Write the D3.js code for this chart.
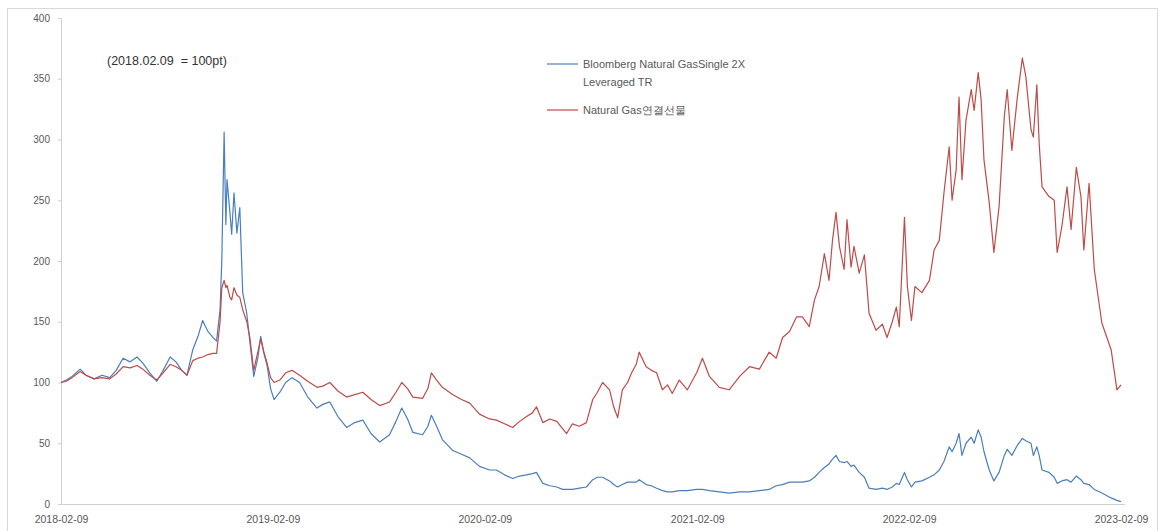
<!DOCTYPE html>
<html><head><meta charset="utf-8">
<script src="https://cdn.jsdelivr.net/npm/d3@7/dist/d3.min.js"></script>
<style>
html,body{margin:0;padding:0;background:#fff;}
svg{display:block;font-family:"Liberation Sans",Arial,sans-serif;}
</style></head>
<body>
<svg id="chart" width="1163" height="531"></svg>
<script>
const dates = ["2018-02-09","2018-02-18","2018-02-28","2018-03-14","2018-03-24","2018-04-07","2018-04-21","2018-05-04","2018-05-15","2018-05-27","2018-06-08","2018-06-20","2018-06-30","2018-07-12","2018-07-24","2018-08-04","2018-08-16","2018-08-26","2018-09-05","2018-09-14","2018-09-24","2018-10-03","2018-10-11","2018-10-20","2018-10-29","2018-11-04","2018-11-10","2018-11-13","2018-11-17","2018-11-20","2018-11-22","2018-11-27","2018-11-30","2018-12-04","2018-12-09","2018-12-14","2018-12-19","2018-12-26","2018-12-31","2019-01-07","2019-01-14","2019-01-19","2019-01-24","2019-01-30","2019-02-05","2019-02-11","2019-02-21","2019-03-03","2019-03-14","2019-03-27","2019-04-10","2019-04-26","2019-05-06","2019-05-18","2019-06-01","2019-06-16","2019-06-30","2019-07-14","2019-07-28","2019-08-12","2019-08-29","2019-09-09","2019-09-19","2019-09-29","2019-10-08","2019-10-25","2019-11-03","2019-11-09","2019-11-18","2019-11-28","2019-12-16","2019-12-31","2020-01-14","2020-01-31","2020-02-17","2020-02-29","2020-03-14","2020-03-28","2020-04-09","2020-04-21","2020-05-01","2020-05-08","2020-05-19","2020-05-31","2020-06-12","2020-06-22","2020-06-29","2020-07-09","2020-07-21","2020-08-02","2020-08-13","2020-08-21","2020-08-30","2020-09-11","2020-09-18","2020-09-25","2020-10-03","2020-10-12","2020-10-19","2020-10-27","2020-11-01","2020-11-13","2020-11-22","2020-12-01","2020-12-11","2020-12-20","2020-12-28","2021-01-09","2021-01-23","2021-02-08","2021-02-18","2021-03-02","2021-03-19","2021-04-05","2021-04-23","2021-05-10","2021-05-27","2021-06-13","2021-06-25","2021-07-06","2021-07-18","2021-07-30","2021-08-09","2021-08-21","2021-08-30","2021-09-07","2021-09-16","2021-09-24","2021-09-30","2021-10-06","2021-10-12","2021-10-20","2021-10-25","2021-11-01","2021-11-06","2021-11-15","2021-11-24","2021-12-02","2021-12-14","2021-12-25","2022-01-02","2022-01-11","2022-01-18","2022-01-23","2022-02-01","2022-02-06","2022-02-13","2022-02-19","2022-03-03","2022-03-16","2022-03-24","2022-04-02","2022-04-10","2022-04-19","2022-04-24","2022-05-01","2022-05-06","2022-05-11","2022-05-18","2022-05-27","2022-06-01","2022-06-08","2022-06-13","2022-06-18","2022-06-27","2022-07-05","2022-07-14","2022-07-23","2022-07-28","2022-08-05","2022-08-14","2022-08-23","2022-08-29","2022-09-07","2022-09-11","2022-09-17","2022-09-21","2022-09-26","2022-10-08","2022-10-17","2022-10-22","2022-10-30","2022-11-08","2022-11-15","2022-11-24","2022-12-02","2022-12-07","2022-12-16","2022-12-25","2023-01-07","2023-01-23","2023-02-02","2023-02-09"];

const bloomberg2x = [100,102,105,111,106,103,106,104,110,120,117,121,116,108,101,110,121,117,110,106,127,138,151,142,137,134,160,200,306,230,267,240,222,256,223,244,174,157,135,105,120,138,125,114,95,86,92,100,104,100,88,79,82,84,72,63,67,69,58,51,57,68,79,70,59,57,64,73,64,53,44,41,38,31,28,28,24,21,23,24,25,26,17,15,14,12,12,12,13,14,20,22,22,19,16,14,16,18,18,18,20,16,15,13,11,10,10,11,11,12,12,11,10,9,10,10,11,12,15,16,18,18,18,19,22,26,30,33,37,40,35,34,35,31,32,26,22,13,12,13,12,14,17,16,26,20,14,18,19,22,24,28,35,47,43,50,58,40,50,55,50,61,55,43,28,19,26,40,45,40,48,54,52,50,40,47,40,28,26,22,17,19,20,18,23,20,17,16,12,9,5,3,2];

const naturalGas = [100,101,104,109,106,103,104,103,107,113,112,114,111,106,102,108,115,113,110,106,118,120,121,123,124,124,150,178,184,178,180,170,168,178,172,170,160,150,138,110,125,136,126,116,104,100,102,108,110,106,101,96,97,100,93,88,90,92,86,81,84,92,100,95,88,87,95,108,102,96,90,86,83,74,70,69,66,63,68,72,75,80,67,70,68,62,58,66,64,67,86,92,100,94,80,71,94,100,108,115,125,113,110,108,94,98,91,102,94,108,120,105,96,94,105,113,111,125,120,137,142,154,154,146,168,179,206,184,217,240,212,193,234,195,212,190,205,157,143,148,137,150,162,146,236,179,151,179,174,184,209,217,256,294,250,275,335,267,316,341,324,355,333,283,248,207,245,319,341,291,333,367,352,308,302,345,297,261,253,250,207,228,261,226,277,253,209,264,193,149,127,94,98];

const seriesNames = ["Bloomberg Natural GasSingle 2X", "Leveraged TR", "Natural Gas연결선물"];
const yTicks = [0,50,100,150,200,250,300,350,400];
const xTickLabels = ["2018-02-09","2019-02-09","2020-02-09","2021-02-09","2022-02-09","2023-02-09"];
const note = "(2018.02.09  = 100pt)";

const parse = d3.timeParse("%Y-%m-%d");
const svg = d3.select("#chart");
const blue = "#4A7EBB", red = "#BE4B48";

svg.append("rect").attr("x",7.5).attr("y",8.5).attr("width",1150).attr("height",540)
  .attr("fill","none").attr("stroke","#d9d9d9");

const x = d3.scaleTime().domain([parse("2018-02-09"), parse("2023-02-09")]).range([61, 1121]);
const y = d3.scaleLinear().domain([0,400]).range([504, 18]);

// y axis
const yAxis = svg.append("g").attr("transform","translate(61,0)")
  .call(d3.axisLeft(y).tickValues(yTicks).tickSize(3).tickPadding(8));
yAxis.select(".domain").attr("stroke","#d0d0d0");
yAxis.selectAll(".tick line").attr("stroke","#d0d0d0");
yAxis.selectAll("text").attr("fill","#595959").style("font-size","10px");

// x axis
const xAxis = svg.append("g").attr("transform","translate(0,504)")
  .call(d3.axisBottom(x).tickValues(xTickLabels.map(parse)).tickSize(0).tickPadding(12)
    .tickFormat(d3.timeFormat("%Y-%m-%d")));
xAxis.select(".domain").attr("stroke","#d0d0d0").attr("d","M61,0.5H1125");
xAxis.selectAll("text").attr("fill","#595959").style("font-size","10.5px");

const pts = dates.map(parse);
const line = vals => d3.line().x((d,i)=>x(pts[i])).y(d=>y(d))(vals);

svg.append("path").attr("d", line(bloomberg2x)).attr("fill","none")
  .attr("stroke",blue).attr("stroke-width",1.2).attr("stroke-linejoin","round");
svg.append("path").attr("d", line(naturalGas)).attr("fill","none")
  .attr("stroke",red).attr("stroke-width",1.2).attr("stroke-linejoin","round");

// note
svg.append("text").attr("x",107).attr("y",65).attr("fill","#333")
  .style("font-size","12.5px").style("white-space","pre").attr("xml:space","preserve").text(note);

// legend
const lg = svg.append("g");
lg.append("line").attr("x1",547).attr("x2",578).attr("y1",64).attr("y2",64).attr("stroke",blue).attr("stroke-width",1.2);
lg.append("text").attr("x",583).attr("y",68).attr("fill","#595959").style("font-size","11px").text(seriesNames[0]);
lg.append("text").attr("x",583).attr("y",86).attr("fill","#595959").style("font-size","11px").text(seriesNames[1]);
lg.append("line").attr("x1",547).attr("x2",578).attr("y1",110).attr("y2",110).attr("stroke",red).attr("stroke-width",1.2);
lg.append("text").attr("x",583).attr("y",114).attr("fill","#595959").style("font-size","11px").text(seriesNames[2]);
</script>
</body></html>
